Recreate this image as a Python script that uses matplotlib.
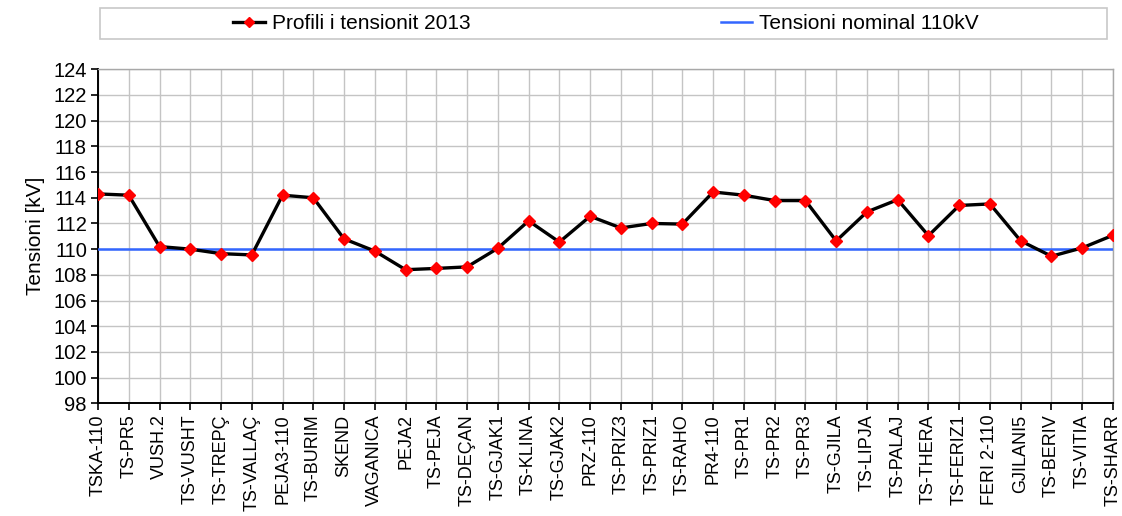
import numpy as np
import matplotlib
matplotlib.use("Agg")
import matplotlib.pyplot as plt
from matplotlib.patches import Rectangle

plt.rcParams['font.family'] = ['Liberation Sans', 'DejaVu Sans']

# nyjet (stations) along the 110 kV network
stations = ["TSKA-110", "TS-PR5", "VUSH.2", "TS-VUSHT", "TS-TREPÇ", "TS-VALLAÇ",
            "PEJA3-110", "TS-BURIM", "SKEND", "VAGANICA", "PEJA2", "TS-PEJA",
            "TS-DEÇAN", "TS-GJAK1", "TS-KLINA", "TS-GJAK2", "PRZ-110", "TS-PRIZ3",
            "TS-PRIZ1", "TS-RAHO", "PR4-110", "TS-PR1", "TS-PR2", "TS-PR3",
            "TS-GJILA", "TS-LIPJA", "TS-PALAJ", "TS-THERA", "TS-FERIZ1", "FERI 2-110",
            "GJILANI5", "TS-BERIV", "TS-VITIA", "TS-SHARR"]

# tensioni i matur 2013 [kV]
tension_2013 = [114.3, 114.2, 110.2, 110.0, 109.65, 109.55,
                114.2, 114.0, 110.8, 109.85, 108.4, 108.5,
                108.62, 110.07, 112.2, 110.55, 112.56, 111.65,
                112.0, 111.95, 114.45, 114.2, 113.78, 113.78,
                110.64, 112.9, 113.85, 111.05, 113.4, 113.52,
                110.64, 109.45, 110.1, 111.08]

nominal_kv = 110
nominal = [nominal_kv] * len(stations)

y_ticks = list(range(98, 125, 2))

fig = plt.figure(figsize=(11.22, 5.16), dpi=100)
ax = fig.add_axes([98 / 1122, 1 - 403.3 / 516, (1113 - 98) / 1122, (403.3 - 69.3) / 516])

x = np.arange(len(stations))
ax.plot(x, tension_2013, color='black', lw=2.4, marker='D', markersize=6.5,
        markerfacecolor='red', markeredgecolor='red', zorder=4,
        label='Profili i tensionit 2013')
ax.plot(x, nominal, color='#3366ff', lw=1.8, zorder=3, label='Tensioni nominal 110kV')

ax.set_xlim(0, len(stations) - 1)
ax.set_ylim(98, 124)
ax.set_yticks(y_ticks)
ax.set_yticklabels([str(v) for v in y_ticks], fontsize=14.5)
ax.set_xticks(x)
ax.set_xticklabels(stations, rotation=90, fontsize=13)
ax.set_ylabel('Tensioni [kV]', fontsize=15, labelpad=6)

ax.grid(True, color='#c4c4c4', lw=1)
ax.set_axisbelow(True)
ax.tick_params(axis='both', direction='out', length=5, width=1.2, color='black')
ax.tick_params(axis='y', pad=3)
ax.tick_params(axis='x', pad=3)
for side in ('left', 'bottom'):
    ax.spines[side].set_color('black')
    ax.spines[side].set_linewidth(1.4)
for side in ('top', 'right'):
    ax.spines[side].set_color('#a8a8a8')
    ax.spines[side].set_linewidth(1)

# kutia e legjendes
fig.patches.append(Rectangle((100 / 1122, 1 - 38.5 / 516), 1007 / 1122, 30.5 / 516,
                             transform=fig.transFigure, facecolor='white',
                             edgecolor='#c8c8c8', lw=1.2, zorder=0))
handles, labels = ax.get_legend_handles_labels()
leg = fig.legend(handles, labels, loc='center', bbox_to_anchor=(606 / 1122, 1 - 23.5 / 516),
                 ncol=2, frameon=False, fontsize=15, columnspacing=12.0,
                 handlelength=1.5, handletextpad=0.35, markerscale=0.8)

fig.savefig('out.png', dpi=100)
